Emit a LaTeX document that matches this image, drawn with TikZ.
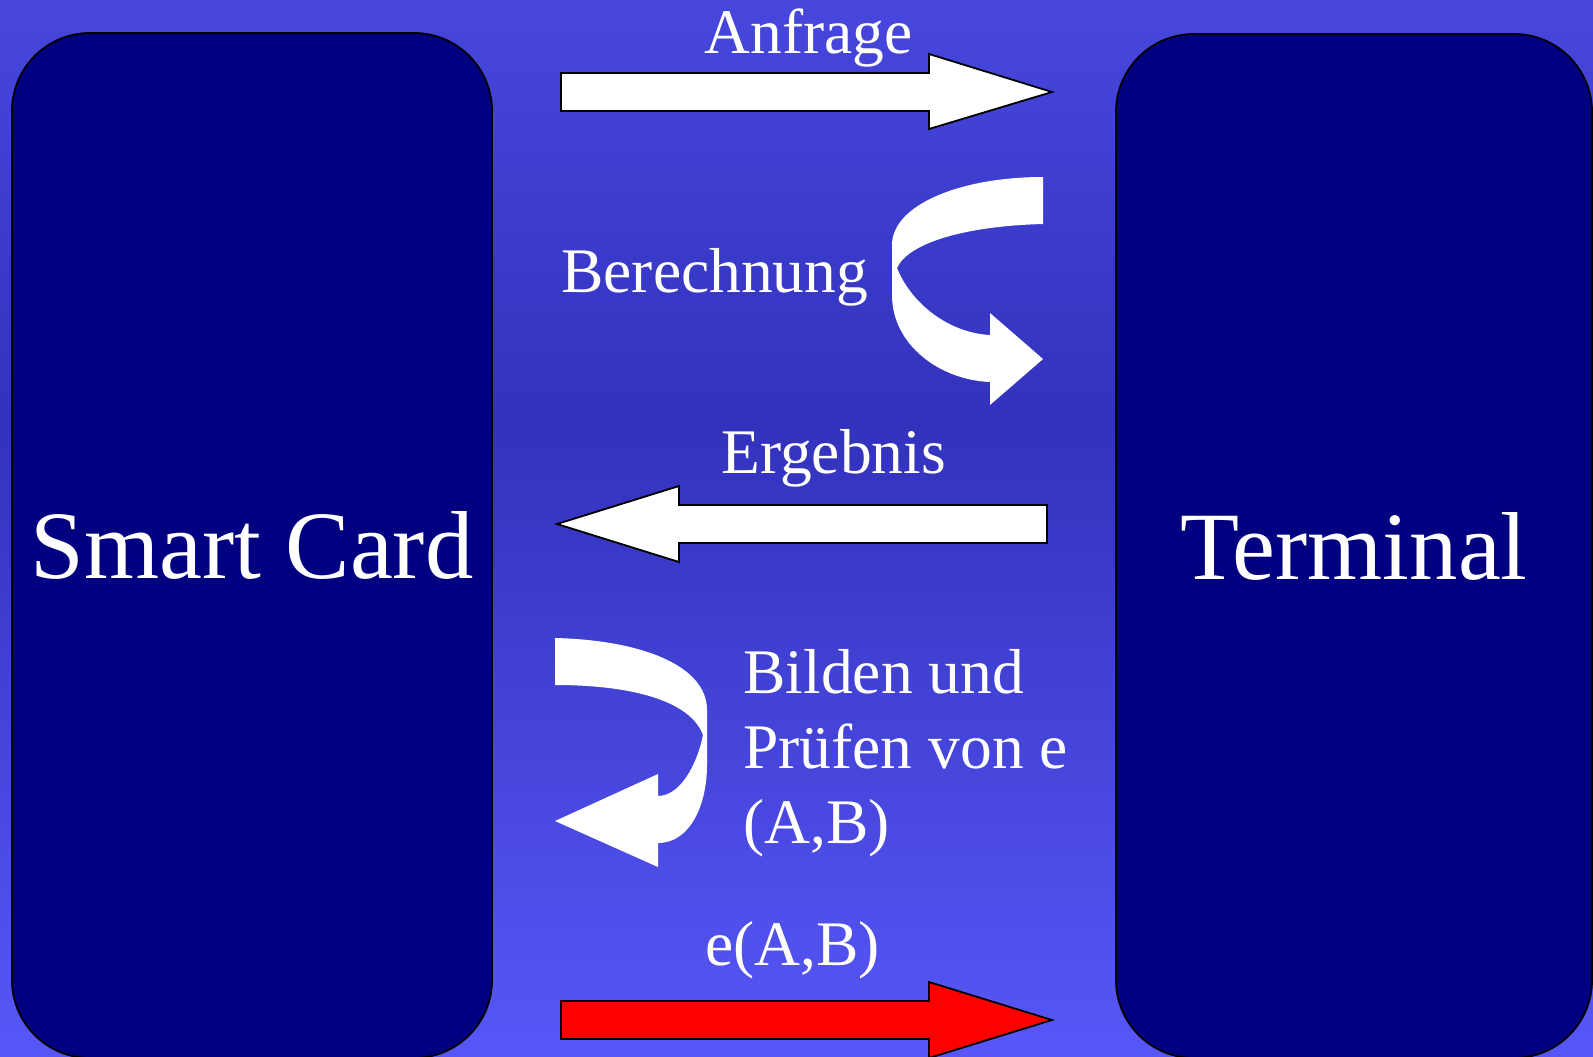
\documentclass[tikz,border=0pt]{standalone}
\usepackage{fontspec}
\setmainfont{Liberation Serif}
\definecolor{bgtop}{RGB}{71,71,222}
\definecolor{bgmid}{RGB}{50,50,188}
\definecolor{bgbot}{RGB}{87,87,248}
\definecolor{navy}{RGB}{0,0,128}
\pgfdeclareverticalshading{bgshade}{100bp}{color(0bp)=(bgbot); color(25bp)=(bgbot); color(55bp)=(bgmid); color(75bp)=(bgtop); color(100bp)=(bgtop)}
\begin{document}
\begin{tikzpicture}[x=0.5pt,y=-0.5pt,
  partybox/.style={draw=black, line width=0.9pt, fill=navy, rounded corners=39pt,
    text=white, font=\fontsize{48.3}{58}\selectfont, inner sep=0pt},
  blockarrow/.style={draw=black, line width=0.9pt, fill=white},
  curvearrow/.style={fill=white},
  lbl/.style={text=white, font=\fontsize{31.75}{37.5}\selectfont, anchor=base west, inner sep=0pt}]
\useasboundingbox (0,0) rectangle (1593,1056);
\clip (0,0) rectangle (1593,1056);
\shade[shading=bgshade] (0,0) rectangle (1593,1056);
% boxes
\node[partybox, minimum width=240pt, minimum height=512.5pt] (card) at (252,545.5) {Smart Card};
\node[partybox, minimum width=238pt, minimum height=512pt] (term) at (1354,546) {Terminal};
% Anfrage arrow
\draw[blockarrow] (561,73) -- (929,73) -- (929,54) -- (1052,92) -- (929,129) -- (929,111) -- (561,111) -- cycle;
\node[lbl] (anfrage) at (704,53) {Anfrage};
% Berechnung curved arrow
\fill[curvearrow] (1043,177) -- (1043,224) .. controls (965,226) and (908,243) .. (897,268)
  .. controls (912,305) and (950,333) .. (990,335) -- (990,313) -- (1043,359) -- (990,405) -- (990,382)
  .. controls (940,380) and (892,345) .. (892,295) -- (892,245)
  .. controls (892,205) and (960,177) .. (1043,177) -- cycle;
\node[lbl] (berech) at (561,292) {Berechnung};
% Ergebnis arrow
\draw[blockarrow] (1047,505) -- (679,505) -- (679,486) -- (557,524) -- (679,562) -- (679,543) -- (1047,543) -- cycle;
\node[lbl] (ergeb) at (721,473) {Ergebnis};
% Bilden curved arrow
\fill[curvearrow] (555,638) .. controls (640,640) and (707,665) .. (707,710) -- (707,765)
  .. controls (707,805) and (690,843) .. (658,843) -- (658,867) -- (555,821) -- (658,774) -- (658,796)
  .. controls (680,796) and (697,765) .. (703,735)
  .. controls (690,700) and (630,685) .. (555,685) -- cycle;
\node[lbl] (bild1) at (743,693) {Bilden und};
\node[lbl] (bild2) at (743,768) {Prüfen von e};
\node[lbl] (bild3) at (743,843) {(A,B)};
% e(A,B) arrow
\draw[blockarrow, fill=red] (561,1001) -- (929,1001) -- (929,982) -- (1052,1020) -- (929,1058) -- (929,1039) -- (561,1039) -- cycle;
\node[lbl] (eab) at (705,965) {e(A,B)};
\end{tikzpicture}
\end{document}
